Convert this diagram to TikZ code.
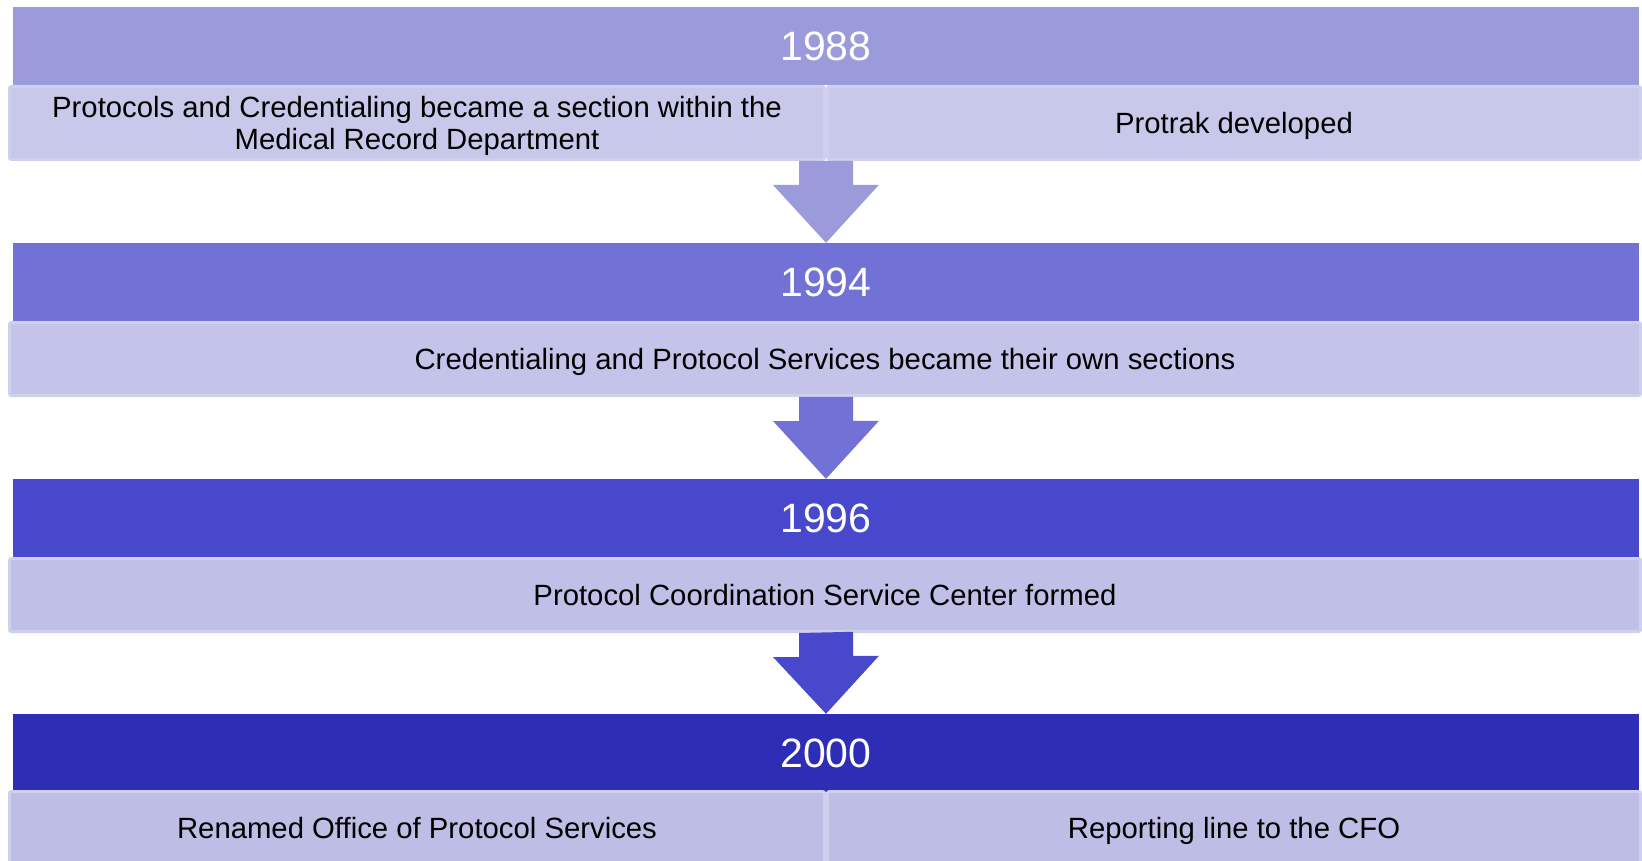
\documentclass[tikz,border=0pt]{standalone}
\usepackage{fontspec}
\setmainfont{Liberation Sans}
\usetikzlibrary{positioning}
\usetikzlibrary{calc}
\definecolor{year1}{HTML}{9B9BDC}
\definecolor{year2}{HTML}{7272D6}
\definecolor{year3}{HTML}{4848CC}
\definecolor{year4}{HTML}{2D2DB6}
\definecolor{event1}{HTML}{C8C8EA}
\definecolor{event2}{HTML}{C4C4EA}
\definecolor{event3}{HTML}{BFBFE8}
\definecolor{event4}{HTML}{BDBDE6}
\definecolor{eventline}{HTML}{CFCFEE}

\begin{document}
\begin{tikzpicture}[x=1pt,y=1pt,
  year/.style={minimum width=1626pt,minimum height=78pt,inner sep=0pt,text=white,font=\fontsize{41}{48}\selectfont},
  event/.style={draw=eventline,line width=3pt,rounded corners=2pt,minimum height=73pt,inner sep=0pt,align=center,text height=21pt,text depth=0pt,font=\fontsize{29.3}{31.5}\selectfont}]
\useasboundingbox (0,0) rectangle (1642,-861);
\clip (0,0) rectangle (1642,-861);

\coordinate (y1) at (826,-46);
\coordinate (y2) at (826,-282);
\coordinate (y3) at (826,-518);
\coordinate (y4) at (826,-753);

\coordinate (e1a) at (417,-123);
\coordinate (e1b) at (1234,-123);
\coordinate (e2) at (825,-359);
\coordinate (e3) at (825,-595);
\coordinate (e4a) at (417,-828);
\coordinate (e4b) at (1234,-828);

  \node (h1) at (y1) [year,fill=year1] {1988};
  \node (h2) at (y2) [year,fill=year2] {1994};
  \node (h3) at (y3) [year,fill=year3] {1996};
  \node (h4) at (y4) [year,fill=year4] {2000};

  \node (d1a) at (e1a) [event,fill=event1,minimum width=815pt,text height={}] {Protocols and Credentialing became a section within the\\Medical Record Department};
  \node (d1b) at (e1b) [event,fill=event1,minimum width=813pt] {Protrak developed};
  \node (d2) at (e2) [event,fill=event2,minimum width=1631pt] {Credentialing and Protocol Services became their own sections};
  \node (d3) at (e3) [event,fill=event3,minimum width=1631pt] {Protocol Coordination Service Center formed};
  \node (d4a) at (e4a) [event,fill=event4,minimum width=815pt] {Renamed Office of Protocol Services};
  \node (d4b) at (e4b) [event,fill=event4,minimum width=813pt] {Reporting line to the CFO};

  \fill[year1] (h1.south |- d1a.south) ++(-27,0) -- ++(0,-24) -- ++(-26,0) -- (h2.north) -- ++(53,58) -- ++(-26,0) -- ++(0,24) -- cycle;
  \fill[year2] (d2.south) ++(-26,0) -- ++(0,-24) -- ++(-26,0) -- (h3.north) -- ++(53,58) -- ++(-26,0) -- ++(0,24) -- cycle;
  \fill[year3] (d3.south) ++(-26,0) -- ++(0,-24) -- ++(-26,0) -- (h4.north) -- ++(53,58) -- ++(-26,0) -- ++(0,24) -- cycle;
\end{tikzpicture}
\end{document}
